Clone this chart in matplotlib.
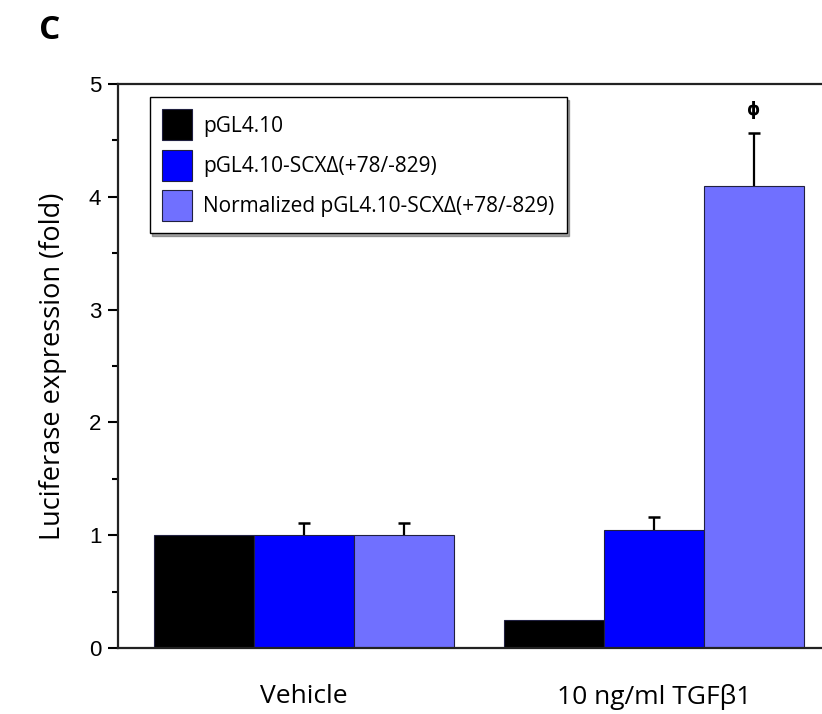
import numpy as np
import matplotlib
matplotlib.use("Agg")
import matplotlib.pyplot as plt
from matplotlib.ticker import MultipleLocator

# data
groups = ["Vehicle", "10 ng/ml TGF\u03b21"]
series = ["pGL4.10", "pGL4.10-SCX\u0394(+78/-829)", "Normalized pGL4.10-SCX\u0394(+78/-829)"]
values = [[1.0, 0.25],
          [1.0, 1.05],
          [1.0, 4.10]]
errors = [[0.0, 0.0],
          [0.11, 0.11],
          [0.11, 0.47]]
colors = ["#000000", "#0000ff", "#7070ff"]

fig = plt.figure(figsize=(8.22, 7.14), dpi=100)
ax = fig.add_axes([118 / 822, 66 / 714, 704 / 822, 564 / 714])

centers = np.array([0.0, 3.5])
width = 1.0
for i, (name, vals, errs, c) in enumerate(zip(series, values, errors, colors)):
    x = centers + (i - 1) * width
    vals = np.array(vals)
    errs = np.array(errs)
    ax.bar(x, vals, width, color=c, edgecolor="#202040", linewidth=0.8, label=name, zorder=2)
    if i > 0:
        # upper error bars only
        ax.vlines(x, vals, vals + errs, color="black", linewidth=1.6, zorder=3)
        ax.plot(x, vals + errs, linestyle="none", marker="_", markersize=9,
                markeredgewidth=1.8, color="black", zorder=3)

# significance mark
ax.text(centers[1] + width, values[2][1] + errors[2][1] + 0.12, "\u03d5",
        ha="center", va="bottom", fontsize=12, fontweight="bold", family="DejaVu Sans")

ax.set_xlim(-1.86, 5.18)
ax.set_ylim(0, 5)
ax.yaxis.set_major_locator(MultipleLocator(1))
ax.yaxis.set_minor_locator(MultipleLocator(0.5))
ax.tick_params(axis="y", which="major", direction="out", length=7, width=1.5,
               labelsize=16, pad=5)
ax.tick_params(axis="y", which="minor", direction="out", length=4, width=1.5)
for lab in ax.get_yticklabels():
    lab.set_family("Liberation Sans")

ax.set_xticks(centers)
ax.set_xticklabels(groups, fontsize=19, family="Open Sans")
ax.tick_params(axis="x", length=0, pad=26)

ax.set_ylabel("Luciferase expression (fold)", fontsize=19.5, family="Open Sans", labelpad=16)

for s in ["left", "bottom", "top"]:
    ax.spines[s].set_linewidth(1.6)
    ax.spines[s].set_color("#222222")
ax.spines["right"].set_visible(False)

leg = ax.legend(loc="upper left", bbox_to_anchor=(0.045, 0.977), frameon=True,
                fancybox=False, shadow=True, edgecolor="black", handlelength=1.45,
                handleheight=1.9, borderpad=0.6, labelspacing=0.45, handletextpad=0.5,
                borderaxespad=0, prop={"family": "Open Sans", "size": 15})
leg.get_frame().set_linewidth(1.0)

fig.text(0.047, 0.945, "C", fontsize=24, fontweight="bold", family="Open Sans")

fig.savefig("out.png", dpi=100)
